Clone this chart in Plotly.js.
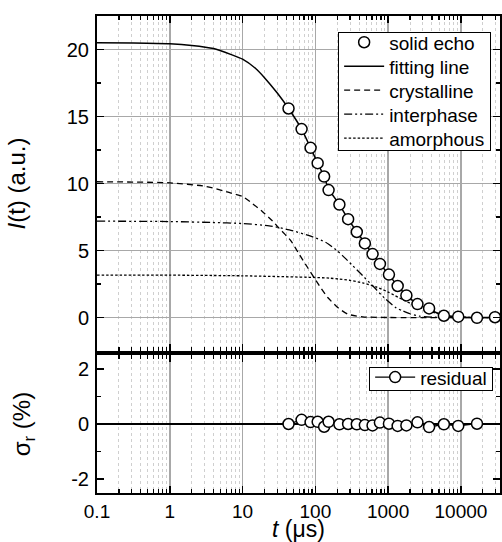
<!DOCTYPE html>
<html><head><meta charset="utf-8">
<script src="https://cdn.plot.ly/plotly-3.0.1.min.js"></script>
<style>html,body{margin:0;padding:0;background:#fff}#chart{width:502px;height:542px}</style>
</head><body><div id="chart"></div>
<script>
// ---- data ----
const tEcho = [42.8, 64.7, 86, 107.6, 132, 152, 214, 282, 371, 479, 611, 771, 1026, 1352, 1782, 2528, 3655, 5834, 9186, 16630, 29400];
const iEcho = [15.6, 14.06, 12.66, 11.52, 10.52, 9.51, 8.43, 7.34, 6.38, 5.53, 4.73, 4.0, 3.2, 2.35, 1.65, 1.0, 0.68, 0.13, 0.06, -0.02, 0.02];

const tFit = [0.1, 0.316, 1, 2, 4, 7, 10, 15, 20, 30, 42.8, 64.7, 86, 107.6, 132, 152, 214, 282, 371, 479, 611, 771, 1026, 1352, 1782, 2528, 3655, 5834, 9186, 16630, 34400];
const iFit = [20.5, 20.48, 20.42, 20.3, 20.07, 19.62, 19.28, 18.6, 17.9, 16.75, 15.6, 14.06, 12.66, 11.52, 10.52, 9.6, 8.43, 7.34, 6.4, 5.54, 4.73, 4.0, 3.18, 2.35, 1.67, 1.0, 0.6, 0.15, 0.04, 0.0, 0.0];

const tCryst = [0.1, 1, 3.16, 6.5, 10, 13.7, 18.8, 25.8, 31.9, 46.2, 60.3, 78.3, 113.5, 148, 203, 279, 447, 1000, 34400];
const iCryst = [10.13, 10.05, 9.78, 9.33, 9.03, 8.5, 7.9, 7.2, 6.65, 5.72, 4.7, 3.73, 2.37, 1.49, 0.75, 0.25, 0.05, 0, 0];

const tInter = [0.1, 1, 3.85, 10, 23.2, 43.9, 91.8, 140, 193, 238, 327, 449, 617, 891, 1288, 1585, 1995, 2692, 5012, 34400];
const iInter = [7.19, 7.16, 7.09, 7.01, 6.84, 6.54, 6.02, 5.6, 5.05, 4.6, 3.86, 3.11, 2.35, 1.45, 0.72, 0.5, 0.28, 0.1, 0.01, 0];

const tAmor = [0.1, 1, 10, 91.8, 156, 214, 294, 449, 686, 1000, 1585, 2438, 3715, 5623, 8710, 15850, 34400];
const iAmor = [3.16, 3.16, 3.11, 2.99, 2.94, 2.86, 2.78, 2.58, 2.28, 1.9, 1.33, 0.85, 0.48, 0.18, 0.05, 0, 0];

const tRes = [42.8, 64.7, 86, 107.6, 132, 152, 214, 282, 371, 479, 611, 771, 1026, 1352, 1782, 2528, 3655, 5834, 9186, 16630];
const res  = [0, 0.15, 0.07, 0.08, -0.1, 0.08, -0.01, 0, -0.01, -0.04, -0.05, 0.05, 0.01, -0.07, -0.05, 0.06, -0.11, -0.01, -0.07, 0.01];

const resTickVals = [-2, 0, 2];
const resTickText = ['-2', '0', '2'];

// ---- styling ----
const FONT = 'Liberation Sans, Arial, sans-serif';
const majGrid = '#a8a8a8';
const minGrid = '#cfcfcf';

const traces = [
  {x: tCryst, y: iCryst, xaxis: 'x', yaxis: 'y', mode: 'lines', name: 'crystalline', legendrank: 3,
   line: {color: '#000', width: 1.3, dash: '6px,4px', shape: 'spline', smoothing: 0.6}},
  {x: tInter, y: iInter, xaxis: 'x', yaxis: 'y', mode: 'lines', name: 'interphase', legendrank: 4,
   line: {color: '#000', width: 1.3, dash: '8px,3px,2px,3px,2px,3px', shape: 'spline', smoothing: 0.6}},
  {x: tAmor, y: iAmor, xaxis: 'x', yaxis: 'y', mode: 'lines', name: 'amorphous', legendrank: 5,
   line: {color: '#000', width: 1.3, dash: '2.5px,2px', shape: 'spline', smoothing: 0.6}},
  {x: tFit, y: iFit, xaxis: 'x', yaxis: 'y', mode: 'lines', name: 'fitting line', legendrank: 2,
   line: {color: '#000', width: 1.5, shape: 'spline', smoothing: 0.6}},
  {x: tEcho, y: iEcho, xaxis: 'x', yaxis: 'y', mode: 'markers', name: 'solid echo', legendrank: 1,
   marker: {symbol: 'circle', size: 11, color: '#fff', line: {color: '#000', width: 1.5}}},
  {x: tRes, y: res, xaxis: 'x2', yaxis: 'y2', mode: 'lines+markers', name: 'residual', legend: 'legend2',
   line: {color: '#000', width: 1.3},
   marker: {symbol: 'circle', size: 11, color: '#fff', line: {color: '#000', width: 1.5}}}
];

const commonX = {
  type: 'log', range: [-1, 4.537], tickmode: 'linear', tick0: 0, dtick: 1, tickformat: '~g',
  showline: true, linecolor: '#000', linewidth: 2, mirror: 'allticks',
  ticks: 'inside', ticklen: 7, tickwidth: 1.5, tickcolor: '#000',
  showgrid: true, gridcolor: majGrid, gridwidth: 1.5, zeroline: false,
  minor: {ticks: 'inside', ticklen: 4, tickwidth: 1.2, tickcolor: '#000', showgrid: true, gridcolor: minGrid, griddash: 'dot', gridwidth: 1},
  tickfont: {family: FONT, size: 19, color: '#000'}
};

const layout = {
  width: 502, height: 542,
  margin: {l: 97, r: 2, t: 16, b: 49},
  paper_bgcolor: '#fff', plot_bgcolor: '#fff',
  font: {family: FONT, size: 19, color: '#000'},
  showlegend: true,
  xaxis: Object.assign({}, commonX, {anchor: 'y', showticklabels: false}),
  xaxis2: Object.assign({}, commonX, {anchor: 'y2', matches: 'x',
    title: {text: '<i>t</i> (μs)', font: {family: FONT, size: 23}, standoff: 8}}),
  yaxis: {
    domain: [0.2977, 1], anchor: 'x', range: [-2.5, 22.5], tickmode: 'linear', tick0: 0, dtick: 5,
    showline: true, linecolor: '#000', linewidth: 2, mirror: 'allticks',
    ticks: 'inside', ticklen: 7, tickwidth: 1.5, tickcolor: '#000',
    showgrid: true, gridcolor: majGrid, gridwidth: 1.5, zeroline: false,
    minor: {tickmode: 'linear', tick0: 0, dtick: 2.5, ticks: 'inside', ticklen: 4, tickwidth: 1.2, tickcolor: '#000', showgrid: false},
    tickfont: {family: FONT, size: 20, color: '#000'}, ticklabelstandoff: 2,
    title: {text: '<i>I</i>(t) (a.u.)', font: {family: FONT, size: 24}, standoff: 34}
  },
  yaxis2: {
    domain: [0, 0.2893], anchor: 'x2', range: [-2.5, 2.5], tickmode: 'array', tickvals: resTickVals, ticktext: resTickText,
    showline: true, linecolor: '#000', linewidth: 2, mirror: 'allticks',
    ticks: 'inside', ticklen: 7, tickwidth: 1.5, tickcolor: '#000',
    showgrid: false, zeroline: true, zerolinecolor: '#000', zerolinewidth: 1.3,
    minor: {tickmode: 'linear', tick0: 0, dtick: 1, ticks: 'inside', ticklen: 4, tickwidth: 1.2, tickcolor: '#000', showgrid: false},
    tickfont: {family: FONT, size: 20, color: '#000'}, ticklabelstandoff: 2,
    title: {text: 'σ<sub>r</sub> (%)', font: {family: FONT, size: 24}, standoff: 34}
  },
  legend: {x: 0.978, xanchor: 'right', y: 0.966, yanchor: 'top', bgcolor: '#fff', bordercolor: '#000', borderwidth: 1,
    font: {family: FONT, size: 19, color: '#000'}, itemwidth: 40, tracegroupgap: 0, traceorder: 'normal'},
  legend2: {x: 0.983, xanchor: 'right', y: 0.265, yanchor: 'top', bgcolor: '#fff', bordercolor: '#000', borderwidth: 1,
    font: {family: FONT, size: 19, color: '#000'}, itemwidth: 40}
};

// tighten legend row spacing to match the reference
function tightenLegend(gd, cls, step, first, boxH) {
  const leg = gd.querySelector('g.' + cls);
  if (!leg) return;
  const items = leg.querySelectorAll('g.traces');
  items.forEach(function (it, i) {
    const tr = it.getAttribute('transform') || '';
    const m = /translate\(\s*([-\d.e]+)[ ,]+([-\d.e]+)\s*\)/.exec(tr);
    if (!m) return;
    it.setAttribute('transform', 'translate(' + m[1] + ',' + (first + i * step) + ')');
  });
  const bg = leg.querySelector('rect.bg');
  if (bg) bg.setAttribute('height', boxH);
}

Plotly.newPlot('chart', traces, layout, {staticPlot: true, displayModeBar: false}).then(function (gd) {
  tightenLegend(gd, 'legend', 24, 10, 118);
  tightenLegend(gd, 'legend2', 23, 10.5, 23);
});
</script>
</body></html>
